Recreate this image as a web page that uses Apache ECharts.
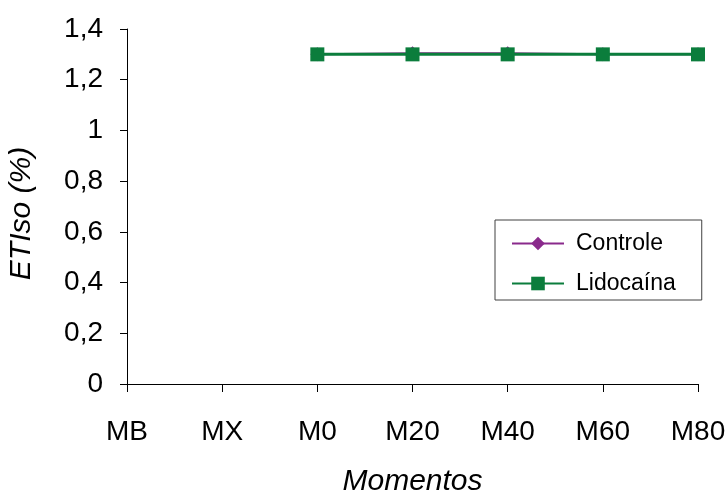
<!DOCTYPE html>
<html>
<head>
<meta charset="utf-8">
<script src="https://cdn.jsdelivr.net/npm/echarts@6/dist/echarts.min.js"></script>
<style>
  html, body { margin: 0; padding: 0; background: #fff; }
  #chart { width: 728px; height: 491px; }
</style>
</head>
<body>
<div id="chart"></div>
<script>
// Moments of measurement
const momentos = ['MB', 'MX', 'M0', 'M20', 'M40', 'M60', 'M80'];
// End-tidal isoflurane (%) per group
const controle = [null, null, 1.3, 1.304, 1.304, 1.3, 1.3];
const lidocaina = [null, null, 1.3, 1.3, 1.3, 1.3, 1.3];

const FONT = 'Liberation Sans, Arial, sans-serif';
const chart = echarts.init(document.getElementById('chart'), null, { renderer: 'canvas' });

chart.setOption({
  animation: false,
  backgroundColor: '#ffffff',
  grid: { left: 127, right: 30, top: 29, bottom: 107, outerBoundsMode: 'none', containLabel: false },
  legend: {
    orient: 'vertical',
    left: 495,
    top: 220,
    padding: [12, 26, 5, 16],
    itemWidth: 52,
    itemHeight: 17,
    itemGap: 17,
    borderColor: '#404040',
    borderWidth: 1,
    textStyle: { fontFamily: FONT, fontSize: 23, color: '#000', padding: [0, 0, 0, 7] },
    data: ['Controle', 'Lidocaína']
  },
  xAxis: {
    type: 'category',
    data: momentos,
    boundaryGap: false,
    name: 'Momentos',
    nameLocation: 'middle',
    nameGap: 83,
    nameTextStyle: { fontFamily: FONT, fontSize: 30, fontStyle: 'italic', color: '#000' },
    axisLine: { lineStyle: { color: '#000', width: 1 } },
    axisTick: { alignWithLabel: true, length: 8, lineStyle: { color: '#000' } },
    axisLabel: { fontFamily: FONT, fontSize: 28, color: '#000', margin: 34, interval: 0 },
    splitLine: { show: false }
  },
  yAxis: {
    type: 'value',
    min: 0,
    max: 1.4,
    interval: 0.2,
    name: 'ETIso (%)',
    nameLocation: 'middle',
    nameGap: 90,
    nameTextStyle: { fontFamily: FONT, fontSize: 30, fontStyle: 'italic', color: '#000', padding: [0, 14, 0, 0] },
    axisLine: { show: true, lineStyle: { color: '#000', width: 1 } },
    axisTick: { show: true, length: 7, lineStyle: { color: '#000' } },
    axisLabel: {
      fontFamily: FONT, fontSize: 28, color: '#000', margin: 24,
      formatter: v => (Math.round(v * 10) / 10).toString().replace('.', ',')
    },
    splitLine: { show: false }
  },
  series: [
    {
      name: 'Controle',
      type: 'line',
      data: controle,
      symbol: 'diamond',
      symbolSize: 14,
      showAllSymbol: true,
      color: '#8a2a8c',
      lineStyle: { width: 2, color: '#8a2a8c' },
      itemStyle: { color: '#8a2a8c' },
      z: 2
    },
    {
      name: 'Lidocaína',
      type: 'line',
      data: lidocaina,
      symbol: 'rect',
      symbolSize: 14,
      showAllSymbol: true,
      color: '#0b7d3c',
      lineStyle: { width: 3, color: '#0b7d3c' },
      itemStyle: { color: '#0b7d3c' },
      z: 3
    }
  ]
});
</script>
</body>
</html>
